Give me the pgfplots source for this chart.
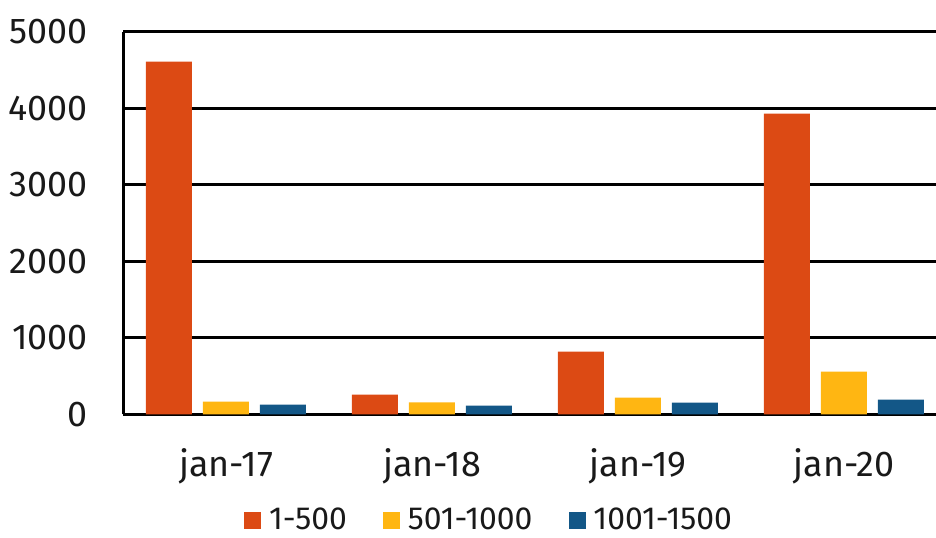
\documentclass[border=0pt]{standalone}
\usepackage{fontspec}
\setmainfont{Fira Sans}
\usepackage{pgfplots}
\pgfplotsset{compat=1.18}

\definecolor{cOrange}{HTML}{DC4A14}
\definecolor{cYellow}{HTML}{FFB612}
\definecolor{cBlue}{HTML}{135787}

\begin{document}
\begin{tikzpicture}
\begin{axis}[
    at={(61.5bp,61.8bp)}, anchor=south west,
    scale only axis,
    width=406.5bp, height=191.35bp,
    ybar=5.5bp,
    bar width=23bp,
    xmin=-0.5, xmax=3.447,
    ymin=0, ymax=5000,
    ytick={0,1000,...,5000},
    xtick={0,1,2,3},
    xticklabels={jan-17,jan-18,jan-19,jan-20},
    axis x line=bottom, axis y line=left,
    axis line style={black, line width=1.5bp, -},
    ymajorgrids,
    grid style={black, line width=1.5bp},
    major tick length=0pt,
    /pgf/number format/assume math mode=true,
    /pgf/number format/1000 sep={},
    tick label style={font=\fontsize{18}{21}\selectfont, text=black!90},
    yticklabel style={anchor=east, inner sep=0pt, xshift=-17.5bp},
    xticklabel style={anchor=north, inner sep=0pt, yshift=-17bp},
    clip=false,
    legend columns=-1,
    legend style={at={(0.4514,-0.276)}, anchor=center, draw=none, fill=none,
      font=\fontsize{16}{19}\selectfont, text=black!90,
      /tikz/every odd column/.append style={column sep=2bp},
      /tikz/every even column/.append style={column sep=16bp},
      inner sep=0pt},
    legend image code/.code={\fill[#1] (0bp,-4.25bp) rectangle (8.5bp,4.25bp);},
]
\addplot[fill=cOrange, draw=none] coordinates {(0,4610) (1,257) (2,820) (3,3930)};
\addplot[fill=cYellow, draw=none] coordinates {(0,166) (1,157) (2,218) (3,558)};
\addplot[fill=cBlue, draw=none] coordinates {(0,127) (1,114) (2,153) (3,192)};
\legend{1-500, 501-1000, 1001-1500}
\end{axis}
\pgfresetboundingbox
\path (0,0) rectangle (468bp,269bp);
\end{tikzpicture}
\end{document}
